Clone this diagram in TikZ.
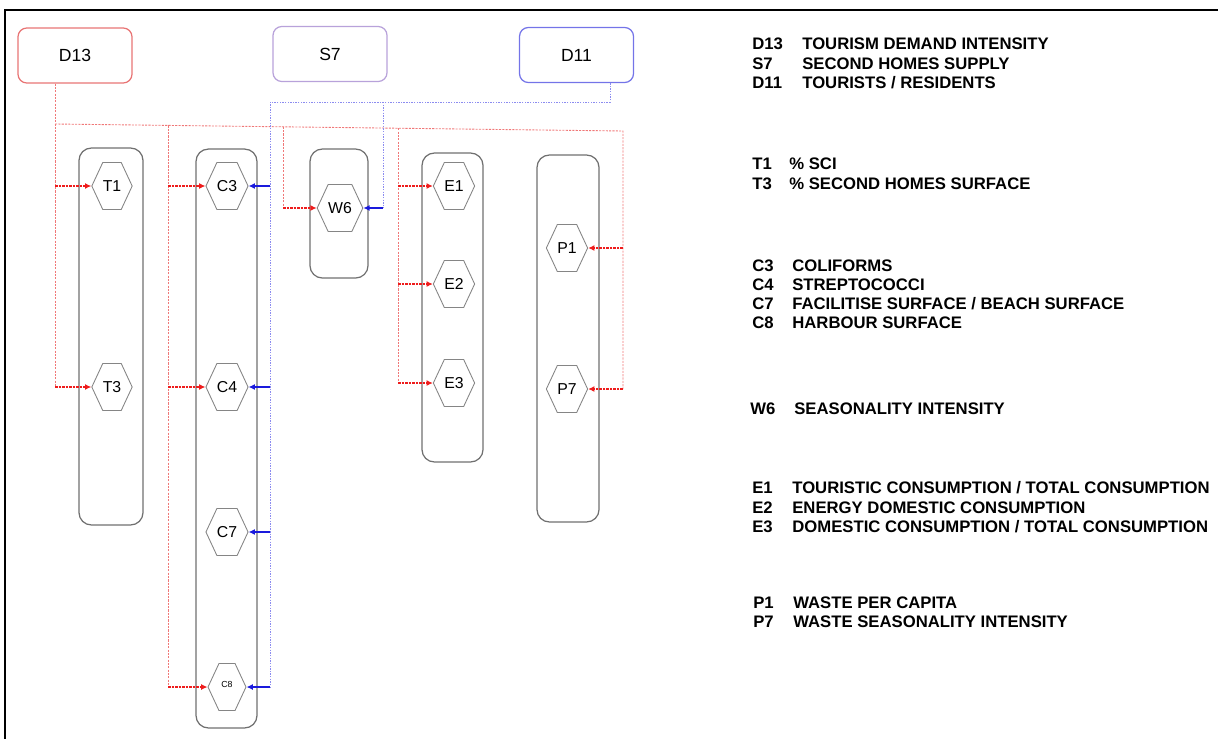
\documentclass[tikz,border=0pt]{standalone}
\usepackage{fontspec}
\setmainfont{Liberation Sans}
\usetikzlibrary{shapes.symbols,arrows.meta}
\definecolor{demred}{HTML}{E87474}
\definecolor{suppurple}{HTML}{B8A2DA}
\definecolor{resblue}{HTML}{7474E8}
\definecolor{linkred}{HTML}{EE1C1C}
\definecolor{wirered}{HTML}{F07878}
\definecolor{linkblue}{HTML}{1A1ADC}
\definecolor{wireblue}{HTML}{8C8CF0}
\definecolor{boxgray}{HTML}{707070}

\begin{document}
\begin{tikzpicture}[x=0.02cm, y=-0.02cm, >={Latex[length=3.6pt,width=3.4pt]},
  topbox/.style={draw, rounded corners=5pt, line width=0.7pt,
    minimum width=2.28cm, minimum height=1.1cm, font=\fontsize{10}{12}\selectfont},
  groupbox/.style={draw=boxgray, rounded corners=7pt, line width=0.7pt},
  hexnode/.style={draw=boxgray!85, line width=0.5pt, signal, signal to=east and west,
    signal from=nowhere, signal pointer angle=130, inner sep=0pt,
    minimum width=0.76cm, minimum height=0.94cm, font=\fontsize{9}{11}\selectfont},
  redwire/.style={draw=wirered, line width=0.5pt, dash pattern=on 1.2pt off 0.7pt},
  redlink/.style={->, draw=linkred, line width=0.9pt, dash pattern=on 1.5pt off 0.5pt},
  bluewire/.style={draw=wireblue, line width=0.5pt, dash pattern=on 0.8pt off 0.7pt},
  bluelink/.style={->, draw=linkblue, line width=0.9pt},
  legend/.style={anchor=base west, inner sep=0pt, font=\fontsize{9.5}{11}\selectfont\bfseries}]
  \useasboundingbox (0,0) rectangle (1218,738);
  \draw[line width=1.6pt] (5,745) -- (5,10) -- (1225,10);

  % source indicators
  \node[topbox, draw=demred] (D13) at (75,55.5) {D13};
  \node[topbox, draw=suppurple] (S7) at (330,54) {S7};
  \node[topbox, draw=resblue] (D11) at (576.5,55) {D11};

  % groups
  \node[groupbox, minimum width=1.28cm, minimum height=7.54cm] (Tgrp) at (111,336.5) {};
  \node[groupbox, minimum width=1.22cm, minimum height=11.58cm] (Cgrp) at (226.5,438.5) {};
  \node[groupbox, minimum width=1.16cm, minimum height=2.58cm] (Wgrp) at (339,213.5) {};
  \node[groupbox, minimum width=1.22cm, minimum height=6.18cm] (Egrp) at (452.5,307.5) {};
  \node[groupbox, minimum width=1.24cm, minimum height=7.34cm] (Pgrp) at (568,338.5) {};

  \node[hexnode] (T1) at (112,186) {T1};
  \node[hexnode] (T3) at (112,387) {T3};
  \node[hexnode] (C3) at (227,186) {C3};
  \node[hexnode] (C4) at (227,387) {C4};
  \node[hexnode] (C7) at (227,532) {C7};
  \node[hexnode, font=\fontsize{5}{6}\selectfont] (C8) at (227,687) {\raisebox{2.5pt}{C8}};
  \node[hexnode] (W6) at (340,208) {W6};
  \node[hexnode] (E1) at (454,186) {E1};
  \node[hexnode] (E2) at (454,284) {E2};
  \node[hexnode] (E3) at (454,383) {E3};
  \node[hexnode] (P1) at (567,248) {P1};
  \node[hexnode] (P7) at (567,389) {P7};

  % red links from D13
  \coordinate (rbus) at (55,124);
  \coordinate (rend) at (623,131);
  \coordinate (rC) at (168,125.4);
  \coordinate (rW) at (283,126.8);
  \coordinate (rE) at (398,128.2);
  \draw[redwire] (D13.south -| rbus) -- (rbus |- T3);
  \draw[redwire] (rbus) -- (rend) -- (rend |- P7);
  \draw[redwire] (rC) -- (rC |- C8);
  \draw[redwire] (rW) -- (rW |- W6);
  \draw[redwire] (rE) -- (rE |- E3);
  \foreach \h in {T1,T3} \draw[redlink] (rbus |- \h) -- (\h.west);
  \foreach \h in {C3,C4,C8} \draw[redlink] (rC |- \h) -- (\h.west);
  \draw[redlink] (rW |- W6) -- (W6.west);
  \foreach \h in {E1,E2,E3} \draw[redlink] (rE |- \h) -- (\h.west);
  \foreach \h in {P1,P7} \draw[redlink] (rend |- \h) -- (\h.east);

  % blue links from D11
  \coordinate (bend) at (610,102);
  \coordinate (bbus) at (270,102);
  \coordinate (bW) at (383,102);
  \draw[bluewire] (D11.south -| bend) -- (bend) -- (bbus) -- (bbus |- C8);
  \draw[bluewire] (bW) -- (bW |- W6);
  \foreach \h in {C3,C4,C7,C8} \draw[bluelink] (bbus |- \h) -- (\h.east);
  \draw[bluelink] (bW |- W6) -- (W6.east);

  % legend
  \foreach \code/\desc/\yy/\xc/\xd in {
      D13/{TOURISM DEMAND INTENSITY}/49/752/802,
      S7/{SECOND HOMES SUPPLY}/69/752/802,
      D11/{TOURISTS / RESIDENTS}/88/752/802,
      T1/{\% SCI}/169/752/789,
      T3/{\% SECOND HOMES SURFACE}/189/752/789,
      C3/{COLIFORMS}/271/752/792,
      C4/{STREPTOCOCCI}/290/752/792,
      C7/{FACILITISE SURFACE / BEACH SURFACE}/309/752/792,
      C8/{HARBOUR SURFACE}/328/752/792,
      W6/{SEASONALITY INTENSITY}/414/750/794,
      E1/{TOURISTIC CONSUMPTION / TOTAL CONSUMPTION}/493/752/792,
      E2/{ENERGY DOMESTIC CONSUMPTION}/513/752/792,
      E3/{DOMESTIC CONSUMPTION / TOTAL CONSUMPTION}/532/752/792,
      P1/{WASTE PER CAPITA}/608/753/793,
      P7/{WASTE SEASONALITY INTENSITY}/627/753/793}{
    \node[legend] (k\code) at (\xc,\yy) {\code};
    \node[legend] (t\code) at (\xd,\yy) {\desc};
  }
\end{tikzpicture}
\end{document}
